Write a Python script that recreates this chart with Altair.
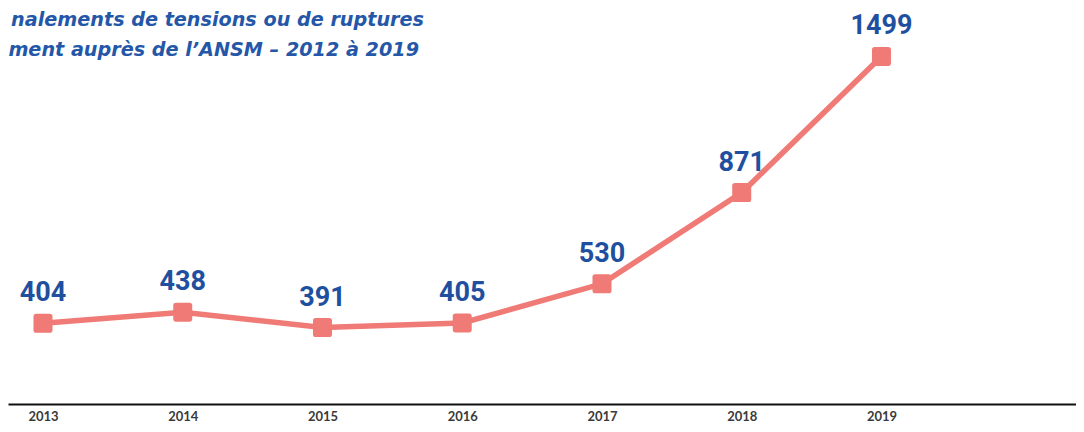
import altair as alt
import pandas as pd

years = [2013, 2014, 2015, 2016, 2017, 2018, 2019]
values = [404, 438, 391, 405, 530, 871, 1499]
title_lines = ["nalements de tensions ou de ruptures", "ment auprès de l\u2019ANSM \u2013 2012 à 2019"]

LINE = "#F07A76"
BLUE = "#1F50A0"
TBLUE = "#2457A8"

df = pd.DataFrame({"year": years, "value": values})
tdf = pd.DataFrame({"text": title_lines, "line": [1, 2]})

x = alt.X("year:Q",
          scale=alt.Scale(domain=[2012.7496, 2020.392], nice=False, zero=False),
          axis=alt.Axis(values=years, format="d", title=None, grid=False,
                        ticks=False, domain=True, domainColor="#111111",
                        domainWidth=2, labelFont="Lato", labelFontWeight="bold",
                        labelFontSize=13, labelColor="#3a3a3a", labelPadding=6,
                        labelFlush=False))
y = alt.Y("value:Q",
          scale=alt.Scale(type="pow", exponent=0.6, domain=[191, 1754], nice=False, zero=False),
          axis=None)

base = alt.Chart(df)

line = base.mark_line(color=LINE, strokeWidth=5.5).encode(x=x, y=y)

rounded = ("M -0.7,-1 L 0.7,-1 Q 1,-1 1,-0.7 L 1,0.7 Q 1,1 0.7,1 "
           "L -0.7,1 Q -1,1 -1,0.7 L -1,-0.7 Q -1,-1 -0.7,-1 Z")
points = base.mark_point(shape=rounded, filled=True, size=361, opacity=1,
                         color=LINE, strokeWidth=0).encode(x=x, y=y)

labels = base.mark_text(font="Roboto", fontWeight="bold", fontSize=27, color=BLUE,
                        baseline="alphabetic", align="center", dy=-22).encode(
    x=x, y=y, text=alt.Text("value:Q", format="d"))

tstyle = dict(font="DejaVu Sans", fontStyle="italic", fontWeight="bold",
              fontSize=19.2, color=TBLUE, align="right", baseline="alphabetic")
title1 = alt.Chart(tdf).transform_filter("datum.line == 1").mark_text(**tstyle).encode(
    x=alt.value(416), y=alt.value(18), text="text:N")
title2 = alt.Chart(tdf).transform_filter("datum.line == 2").mark_text(**tstyle).encode(
    x=alt.value(411), y=alt.value(48), text="text:N")

chart = alt.layer(line, points, labels, title1, title2).properties(
    width=1068, height=396,
    autosize=alt.AutoSizeParams(type="none"),
    padding={"left": 0, "top": 0, "right": 0, "bottom": 20},
).configure_view(stroke=None)

chart.save("out.html", embed_options={"renderer": "svg", "actions": False})
